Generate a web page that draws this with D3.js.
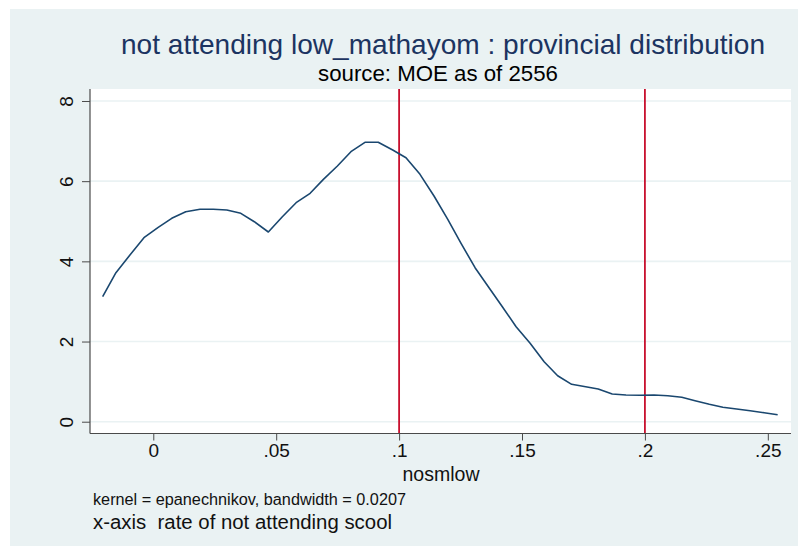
<!DOCTYPE html>
<html>
<head>
<meta charset="utf-8">
<script src="https://cdn.jsdelivr.net/npm/d3@7"></script>
<style>
  html, body { margin: 0; padding: 0; background: #ffffff; }
  svg { display: block; }
  text { font-family: "Liberation Sans", Arial, Helvetica, sans-serif; white-space: pre; }
</style>
</head>
<body>
<svg id="chart" width="798" height="546"></svg>
<script>
// ---- data ----
const xValues = [-0.0206, -0.0152, -0.0095, -0.0038, 0.0020, 0.0075, 0.0132, 0.0190, 0.0244, 0.0299,
                 0.0356, 0.0411, 0.0468, 0.0525, 0.0581, 0.0638, 0.0692, 0.0749, 0.0804, 0.0861,
                 0.0915, 0.0974, 0.1028, 0.1085, 0.1142, 0.1198, 0.1252, 0.1309, 0.1363, 0.1420,
                 0.1476, 0.1533, 0.1590, 0.1645, 0.1702, 0.1759, 0.1810, 0.1867, 0.1923, 0.1980,
                 0.2037, 0.2093, 0.2150, 0.2204, 0.2262, 0.2317, 0.2373, 0.2428, 0.2485, 0.2540];
const densityValues = [3.118, 3.717, 4.158, 4.590, 4.849, 5.074, 5.238, 5.298, 5.298, 5.281,
                       5.198, 4.989, 4.732, 5.114, 5.463, 5.697, 6.046, 6.378, 6.735, 6.969,
                       6.969, 6.777, 6.585, 6.171, 5.630, 5.049, 4.450, 3.841, 3.367, 2.869,
                       2.370, 1.956, 1.497, 1.147, 0.933, 0.873, 0.816, 0.691, 0.666, 0.659,
                       0.666, 0.649, 0.609, 0.524, 0.434, 0.359, 0.317, 0.274, 0.224, 0.175];
const xTicks = [0, 0.05, 0.10, 0.15, 0.20, 0.25];
const xTickLabels = ["0", ".05", ".1", ".15", ".2", ".25"];
const yTicks = [0, 2, 4, 6, 8];
const yTickLabels = ["0", "2", "4", "6", "8"];
const refLines = [0.1, 0.2];
const titleText = "not attending low_mathayom : provincial distribution";
const subtitleText = "source: MOE as of 2556";
const xAxisTitle = "nosmlow";
const note1 = "kernel = epanechnikov, bandwidth = 0.0207";
const note2 = "x-axis  rate of not attending scool";

// ---- layout ----
const W = 798, H = 546;
const plot = { left: 90, right: 791, top: 89, bottom: 433.5 };
const svg = d3.select("#chart");

// outer background
svg.append("rect").attr("x", 0).attr("y", 0).attr("width", W).attr("height", H).attr("fill", "#ffffff");
svg.append("rect").attr("x", 10).attr("y", 9).attr("width", W - 10).attr("height", H - 9).attr("fill", "#eaf2f3");

const x = d3.scaleLinear().domain([-0.02575, 0.25943]).range([plot.left, plot.right]);
const y = d3.scaleLinear().domain([-0.294, 8.299]).range([plot.bottom, plot.top]);

// plot area
svg.append("rect").attr("x", plot.left).attr("y", plot.top)
  .attr("width", plot.right - plot.left).attr("height", plot.bottom - plot.top).attr("fill", "#ffffff");

// gridlines
svg.append("g").selectAll("line").data(yTicks).join("line")
  .attr("x1", plot.left).attr("x2", plot.right)
  .attr("y1", d => y(d)).attr("y2", d => y(d))
  .attr("stroke", "#eaf2f3").attr("stroke-width", 1.6);

// reference lines
svg.append("g").selectAll("line").data(refLines).join("line")
  .attr("x1", d => x(d)).attr("x2", d => x(d))
  .attr("y1", plot.top).attr("y2", plot.bottom)
  .attr("stroke", "#c8102e").attr("stroke-width", 1.8);

// density curve
const pts = xValues.map((v, i) => [v, densityValues[i]]);
svg.append("path").datum(pts)
  .attr("fill", "none").attr("stroke", "#1a476f").attr("stroke-width", 1.6)
  .attr("stroke-linejoin", "round")
  .attr("d", d3.line().x(d => x(d[0])).y(d => y(d[1])));

// axes
const axisColor = "#4a4a4a";
const xAxis = d3.axisBottom(x).tickValues(xTicks).tickFormat((d, i) => xTickLabels[i]).tickSize(7).tickPadding(3);
const gx = svg.append("g").attr("transform", `translate(0,${plot.bottom})`).call(xAxis);
gx.select(".domain").attr("d", `M${plot.left},0H${plot.right}`).attr("stroke", axisColor).attr("stroke-width", 1.2);
gx.selectAll(".tick line").attr("stroke", axisColor).attr("stroke-width", 1);
gx.selectAll(".tick text").attr("font-size", 19).attr("fill", "#111").attr("dy", "0.71em");

const yAxis = d3.axisLeft(y).tickValues(yTicks).tickFormat((d, i) => yTickLabels[i]).tickSize(8).tickPadding(9);
const gy = svg.append("g").attr("transform", `translate(${plot.left},0)`).call(yAxis);
gy.select(".domain").attr("d", `M0,${plot.top}V${plot.bottom}`).attr("stroke", axisColor).attr("stroke-width", 1.2);
gy.selectAll(".tick line").attr("stroke", axisColor).attr("stroke-width", 1);
gy.selectAll(".tick text")
  .attr("font-size", 19).attr("fill", "#111")
  .attr("x", null).attr("dy", null)
  .attr("text-anchor", "middle")
  .attr("transform", "translate(-17,0) rotate(-90)");

svg.selectAll("g").attr("font-family", null);

// texts
function addText(str, xpos, ypos, size, color, anchor, targetWidth) {
  const t = svg.append("text").attr("x", xpos).attr("y", ypos)
    .attr("font-size", size).attr("fill", color).attr("text-anchor", anchor).text(str);
  if (targetWidth) t.attr("textLength", targetWidth).attr("lengthAdjust", "spacingAndGlyphs");
  return t;
}
addText(titleText, 443, 54, 28, "#1c3461", "middle", 644);
addText(subtitleText, 438, 81, 21.5, "#000", "middle", 240);
addText(xAxisTitle, 441, 481, 19.5, "#111", "middle");
addText(note1, 93, 505, 16, "#111", "start", 313);
addText(note2, 93, 529, 20, "#111", "start", 299);
</script>
</body>
</html>
